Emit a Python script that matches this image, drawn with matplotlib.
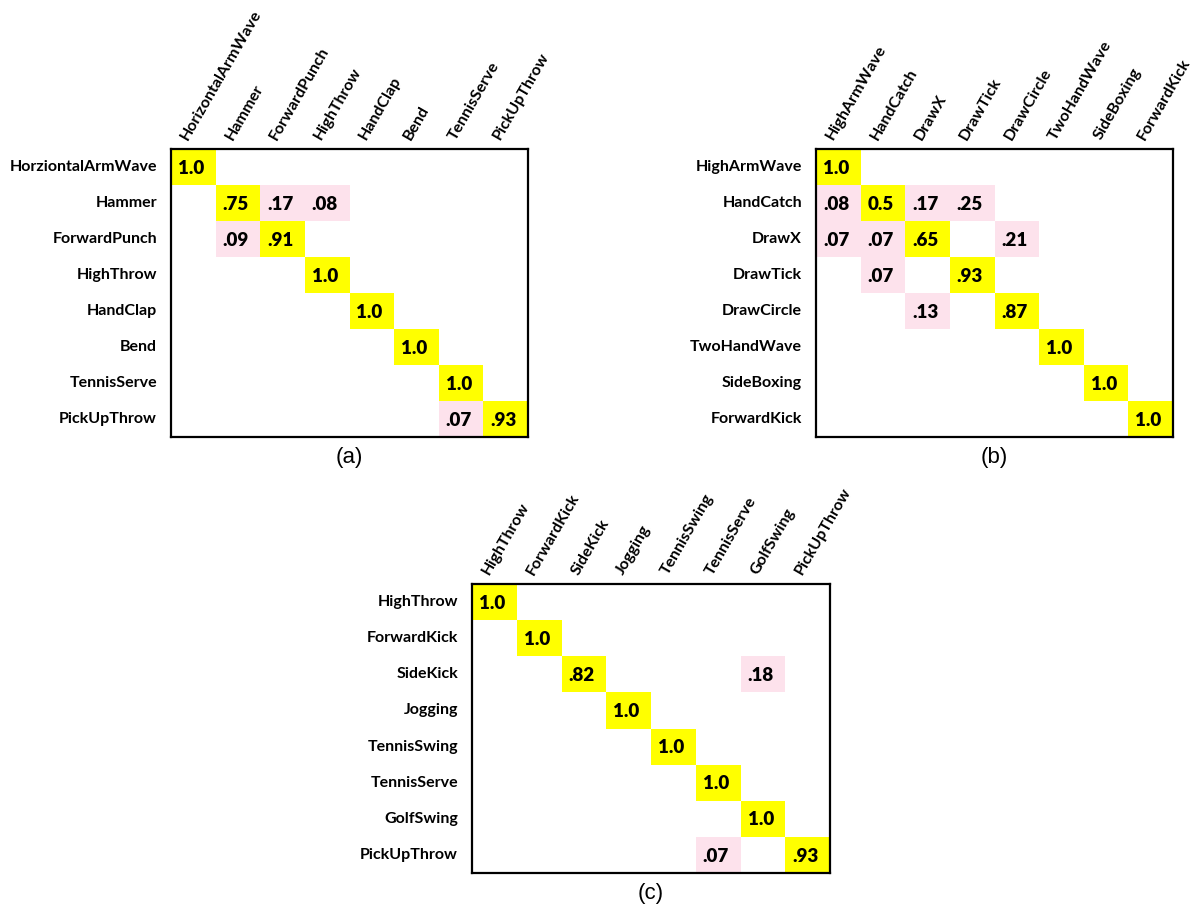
import matplotlib.pyplot as plt
from matplotlib.patches import Rectangle

# class names for the three confusion matrices
cols_a = ['HorizontalArmWave', 'Hammer', 'ForwardPunch', 'HighThrow',
          'HandClap', 'Bend', 'TennisServe', 'PickUpThrow']
rows_a = ['HorziontalArmWave', 'Hammer', 'ForwardPunch', 'HighThrow',
          'HandClap', 'Bend', 'TennisServe', 'PickUpThrow']
cols_b = ['HighArmWave', 'HandCatch', 'DrawX', 'DrawTick', 'DrawCircle',
          'TwoHandWave', 'SideBoxing', 'ForwardKick']
rows_b = cols_b
cols_c = ['HighThrow', 'ForwardKick', 'SideKick', 'Jogging', 'TennisSwing',
          'TennisServe', 'GolfSwing', 'PickUpThrow']
rows_c = cols_c

conf_a = [
    [1.0, 0, 0, 0, 0, 0, 0, 0],
    [0, .75, .17, .08, 0, 0, 0, 0],
    [0, .09, .91, 0, 0, 0, 0, 0],
    [0, 0, 0, 1.0, 0, 0, 0, 0],
    [0, 0, 0, 0, 1.0, 0, 0, 0],
    [0, 0, 0, 0, 0, 1.0, 0, 0],
    [0, 0, 0, 0, 0, 0, 1.0, 0],
    [0, 0, 0, 0, 0, 0, .07, .93],
]
conf_b = [
    [1.0, 0, 0, 0, 0, 0, 0, 0],
    [.08, 0.5, .17, .25, 0, 0, 0, 0],
    [.07, .07, .65, 0, .21, 0, 0, 0],
    [0, .07, 0, .93, 0, 0, 0, 0],
    [0, 0, .13, 0, .87, 0, 0, 0],
    [0, 0, 0, 0, 0, 1.0, 0, 0],
    [0, 0, 0, 0, 0, 0, 1.0, 0],
    [0, 0, 0, 0, 0, 0, 0, 1.0],
]
conf_c = [
    [1.0, 0, 0, 0, 0, 0, 0, 0],
    [0, 1.0, 0, 0, 0, 0, 0, 0],
    [0, 0, .82, 0, 0, 0, .18, 0],
    [0, 0, 0, 1.0, 0, 0, 0, 0],
    [0, 0, 0, 0, 1.0, 0, 0, 0],
    [0, 0, 0, 0, 0, 1.0, 0, 0],
    [0, 0, 0, 0, 0, 0, 1.0, 0],
    [0, 0, 0, 0, 0, .07, 0, .93],
]

YELLOW = '#ffff00'
PINK = '#fde2ec'
LABEL_FONT = 'Lato'
W, H = 1197, 911


def fmt(v):
    s = f'{v:.2f}'
    if s.endswith('0'):
        return f'{v:.1f}'
    return s.lstrip('0')


def draw_matrix(ax, mat, rows, cols, caption):
    n = len(rows)
    ax.set_xlim(-0.5, n - 0.5)
    ax.set_ylim(n - 0.5, -0.5)
    for i, row in enumerate(mat):
        for j, v in enumerate(row):
            if v == 0:
                continue
            color = YELLOW if i == j else PINK
            ax.add_patch(Rectangle((j - 0.5, i - 0.5), 1, 1, facecolor=color,
                                   edgecolor='none', zorder=1))
            ax.text(j - 0.05, i + 0.03, fmt(v), ha='center', va='center',
                    fontsize=13.5, fontweight='heavy', family=LABEL_FONT,
                    color='black', zorder=2)
    ax.set_xticks([])
    ax.set_yticks([])
    for sp in ax.spines.values():
        sp.set_linewidth(1.6)
        sp.set_zorder(3)
    for i, name in enumerate(rows):
        ax.annotate(name, xy=(-0.5, i), xycoords='data', xytext=(-10, 0),
                    textcoords='offset points', ha='right', va='center',
                    fontsize=11.5, fontweight='bold', family=LABEL_FONT)
    for j, name in enumerate(cols):
        ax.annotate(name, xy=(j, -0.5), xycoords='data', xytext=(-4, 6),
                    textcoords='offset points', ha='left', va='baseline',
                    rotation=60, rotation_mode='anchor',
                    fontsize=11.5, fontweight='bold', family=LABEL_FONT)
    ax.text(0.5, -0.035, caption, transform=ax.transAxes, ha='center',
            va='top', fontsize=16, family='Liberation Sans')


fig = plt.figure(figsize=(W / 100, H / 100), dpi=100)

ax_a = fig.add_axes([171 / W, 1 - 437 / H, 357 / W, 288 / H])
ax_b = fig.add_axes([816 / W, 1 - 437 / H, 357 / W, 288 / H])
ax_c = fig.add_axes([472 / W, 1 - 873 / H, 358 / W, 289 / H])

draw_matrix(ax_a, conf_a, rows_a, cols_a, '(a)')
draw_matrix(ax_b, conf_b, rows_b, cols_b, '(b)')
draw_matrix(ax_c, conf_c, rows_c, cols_c, '(c)')

fig.savefig('out.png', dpi=100, facecolor='white')
